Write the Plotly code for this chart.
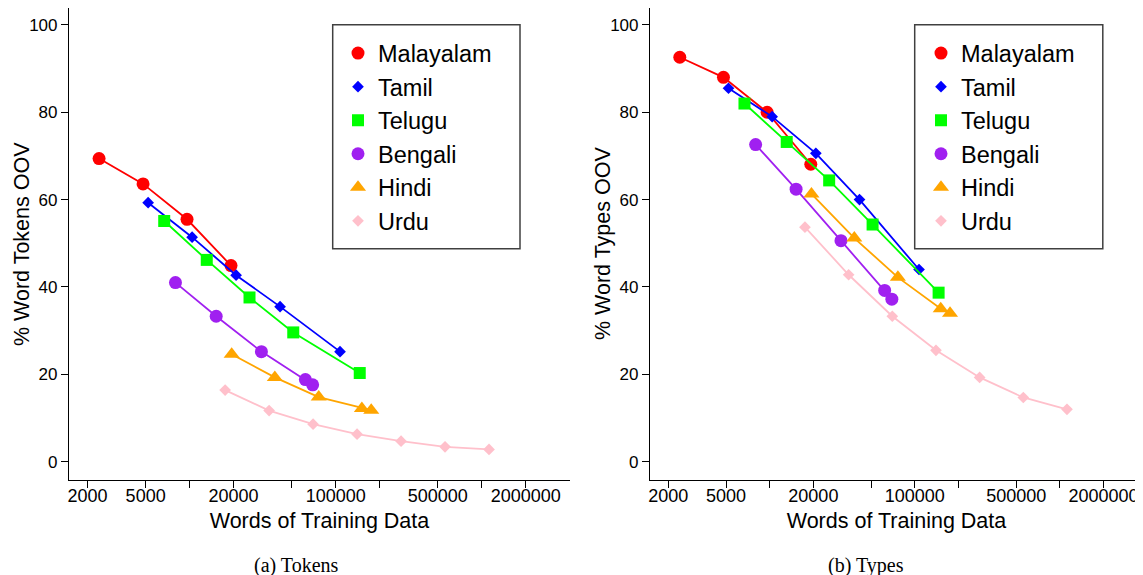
import plotly.graph_objects as go

# page body has an 8px margin, so the figure is laid out in a shifted frame
OFF = 8
W, H = 1143 - OFF, 575 - OFF

languages = ["Malayalam", "Tamil", "Telugu", "Bengali", "Hindi", "Urdu"]
colors = ["#FF0000", "#0000FF", "#00FF00", "#A020F0", "#FFA500", "#FFC0CB"]
symbols = ["circle", "diamond", "square", "circle", "triangle-up", "diamond"]
sizes = [13, 9, 12, 13, 14, 9]

# words of training data (x), same for both panels
x_malayalam = [2400, 4800, 9600, 19200]
x_tamil = [5200, 10400, 20800, 41600, 107000]
x_telugu = [6700, 13100, 25700, 51200, 146000]
x_bengali = [8000, 15200, 31000, 62000, 69500]
x_hindi = [19400, 38300, 76500, 151000, 175000]
x_urdu = [17500, 35000, 70000, 140000, 280000, 560000, 1120000]

# % word tokens OOV
tok_malayalam = [69.4, 63.6, 55.5, 44.9]
tok_tamil = [59.3, 51.4, 42.7, 35.5, 25.2]
tok_telugu = [55.1, 46.2, 37.6, 29.6, 20.3]
tok_bengali = [41.0, 33.3, 25.2, 18.8, 17.6]
tok_hindi = [24.6, 19.3, 14.8, 12.2, 11.8]
tok_urdu = [16.4, 11.7, 8.6, 6.3, 4.7, 3.4, 2.8]

# % word types OOV
typ_malayalam = [92.6, 88.0, 80.0, 68.1]
typ_tamil = [85.5, 79.0, 70.6, 60.0, 44.0]
typ_telugu = [82.0, 73.2, 64.4, 54.3, 38.7]
typ_bengali = [72.6, 62.4, 50.6, 39.2, 37.2]
typ_hindi = [61.3, 51.2, 42.2, 35.0, 34.0]
typ_urdu = [53.7, 42.8, 33.3, 25.5, 19.3, 14.7, 12.0]

xs = [x_malayalam, x_tamil, x_telugu, x_bengali, x_hindi, x_urdu]
toks = [tok_malayalam, tok_tamil, tok_telugu, tok_bengali, tok_hindi, tok_urdu]
typs = [typ_malayalam, typ_tamil, typ_telugu, typ_bengali, typ_hindi, typ_urdu]

x_tickvals = [2000, 5000, 10000, 20000, 50000, 100000, 200000, 500000, 1000000, 2000000]
x_ticktext = ["2000", "5000", "", "20000", "", "100000", "", "500000", "", "2000000"]
y_tickvals = [0, 20, 40, 60, 80, 100]

SANS = "Liberation Sans"
fig = go.Figure()

for panel, (ydata, xa, ya, leg) in enumerate([(toks, "x", "y", "legend"), (typs, "x2", "y2", "legend2")]):
    for i, name in enumerate(languages):
        fig.add_trace(go.Scatter(
            x=xs[i], y=ydata[i], mode="lines", xaxis=xa, yaxis=ya,
            line=dict(color=colors[i], width=1.8), showlegend=False, hoverinfo="skip"))
        fig.add_trace(go.Scatter(
            x=xs[i], y=ydata[i], mode="markers", name=name, xaxis=xa, yaxis=ya,
            marker=dict(color=colors[i], symbol=symbols[i], size=sizes[i]),
            legend=leg, showlegend=True))

def px_x(p):
    return (p - OFF) / W

def px_y(p):
    return 1 - (p - OFF) / H

common_x = dict(type="log", showgrid=False, zeroline=False, showline=True, linecolor="black",
                linewidth=1.2, ticks="outside", ticklen=7, tickcolor="black", tickwidth=1.2,
                tickvals=x_tickvals, ticktext=x_ticktext, automargin=False,
                ticklabelstandoff=-8,
                tickfont=dict(family=SANS, size=18, color="black"),
                title=dict(text="Words of Training Data", font=dict(family=SANS, size=21.5, color="black"),
                           standoff=8))
common_y = dict(range=[-4.19, 103.87], showgrid=False, zeroline=False, showline=True, linecolor="black",
                linewidth=1.2, ticks="outside", ticklen=7, tickcolor="black", tickwidth=1.2,
                tickvals=y_tickvals, automargin=False,
                tickfont=dict(family=SANS, size=17, color="black"))

xdom_l = [px_x(69), px_x(570)]
xdom_r = [px_x(650), 1.0]
ydom = [px_y(480), 1.0]

title_font = dict(family=SANS, size=21.5, color="black")
cap_font = dict(family="Liberation Serif", size=20, color="black")
legend_font = dict(family=SANS, size=23.5, color="black")

fig.update_layout(
    template="none",
    width=W, height=H,
    margin=dict(l=0, r=0, t=0, b=0, autoexpand=False),
    plot_bgcolor="white", paper_bgcolor="white",
    xaxis=dict(common_x, domain=xdom_l, range=[3.1744, 6.6035], anchor="y"),
    yaxis=dict(common_y, domain=ydom, anchor="x"),
    xaxis2=dict(common_x, domain=xdom_r, range=[3.1749, 6.5732], anchor="y2"),
    yaxis2=dict(common_y, domain=ydom, anchor="x2"),
    legend=dict(x=px_x(338), y=px_y(31.3), xanchor="left", yanchor="top", borderwidth=0,
                bgcolor="rgba(0,0,0,0)", font=legend_font),
    legend2=dict(x=px_x(921), y=px_y(31.3), xanchor="left", yanchor="top", borderwidth=0,
                 bgcolor="rgba(0,0,0,0)", font=legend_font),
    shapes=[
        dict(type="rect", xref="paper", yref="paper", x0=px_x(332.7), x1=px_x(520),
             y0=px_y(248.7), y1=px_y(24.7), line=dict(color="#404040", width=1.5)),
        dict(type="rect", xref="paper", yref="paper", x0=px_x(914.7), x1=px_x(1102.8),
             y0=px_y(248.7), y1=px_y(24.7), line=dict(color="#404040", width=1.5)),
    ],
    annotations=[
        dict(text="% Word Tokens OOV", x=px_x(22), y=px_y(244), xref="paper", yref="paper",
             textangle=-90, showarrow=False, xanchor="center", yanchor="middle", font=title_font),
        dict(text="% Word Types OOV", x=px_x(603), y=px_y(244), xref="paper", yref="paper",
             textangle=-90, showarrow=False, xanchor="center", yanchor="middle", font=title_font),
        dict(text="(a) Tokens", x=px_x(296), y=px_y(565), xref="paper", yref="paper",
             showarrow=False, xanchor="center", yanchor="middle", font=cap_font),
        dict(text="(b) Types", x=px_x(866), y=px_y(565), xref="paper", yref="paper",
             showarrow=False, xanchor="center", yanchor="middle", font=cap_font),
    ],
)

fig.write_html("out.html")
